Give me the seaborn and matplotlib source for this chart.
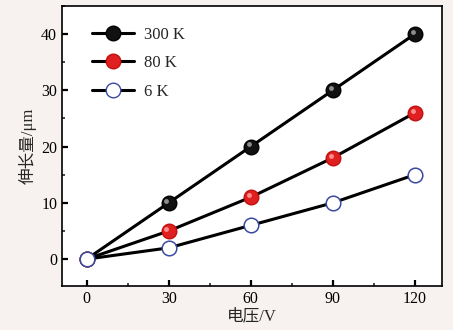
import matplotlib
matplotlib.use("Agg")
import matplotlib.pyplot as plt
import matplotlib.transforms as mtransforms
from matplotlib.ticker import MultipleLocator
from matplotlib.lines import Line2D
import seaborn as sns
import pandas as pd

voltage = [0, 30, 60, 90, 120]
ext_300K = [0, 10, 20, 30, 40]
ext_80K = [0, 5, 11, 18, 26]
ext_6K = [0, 2, 6, 10, 15]
labels = ["300 K", "80 K", "6 K"]
x_label = "电压/V"
y_label = "伸长量/μm"

sns.set_theme(style="ticks")
plt.rcParams['font.family'] = ['Liberation Serif', 'Noto Sans CJK SC']
plt.rcParams['mathtext.fontset'] = 'stix'

fig = plt.figure(figsize=(4.53, 3.30), dpi=100, facecolor="#f7f2ef")
ax = fig.add_axes([0.137, 0.133, 0.839, 0.849])
ax.set_facecolor("white")

styles = [
    dict(mfc="#111111", mec="#000000", hl="#9a9a9a"),
    dict(mfc="#e02020", mec="#c01010", hl="#ff9a9a"),
    dict(mfc="white", mec="#3a4aa0", hl=None),
]
series = [ext_300K, ext_80K, ext_6K]
hl_trans = mtransforms.offset_copy(ax.transData, fig=fig, x=-1.6, y=1.6, units='points')

for i, (vals, lab, st) in enumerate(zip(series, labels, styles)):
    df = pd.DataFrame({"V": voltage, "d": vals})
    sns.lineplot(data=df, x="V", y="d", ax=ax, color="black", lw=2.2,
                 marker="o", markersize=10.5, markerfacecolor=st["mfc"],
                 markeredgecolor=st["mec"], markeredgewidth=1.0 if st["hl"] else 1.1,
                 label=lab, legend=False, zorder=3 + 2 * i)
    if st["hl"]:
        ax.plot(voltage, vals, ls="none", marker="o", markersize=3.5,
                markerfacecolor=st["hl"], markeredgecolor="none",
                transform=hl_trans, zorder=4 + 2 * i, alpha=0.9)

handles = [Line2D([], [], color="black", lw=2.2, marker="o", markersize=10.5,
                  markerfacecolor=st["mfc"], markeredgecolor=st["mec"]) for st in styles]
leg = ax.legend(handles, labels, loc="upper left", frameon=False, fontsize=12,
                handlelength=2.5, handletextpad=0.6, labelspacing=0.75,
                borderaxespad=0.6, bbox_to_anchor=(0.035, 0.985))

ax.set_xlim(-9, 130)
ax.set_ylim(-4.8, 45)
ax.set_xticks(voltage)
ax.set_yticks([0, 10, 20, 30, 40])
ax.xaxis.set_minor_locator(MultipleLocator(15))
ax.yaxis.set_minor_locator(MultipleLocator(5))
ax.tick_params(which="major", direction="in", length=4, width=1.6, labelsize=11.5,
               top=False, right=False, colors="black")
ax.tick_params(which="minor", direction="in", length=2, width=1.2, top=False, right=False)
for s in ax.spines.values():
    s.set_linewidth(1.2)
    s.set_color("black")
ax.set_xlabel(x_label, fontsize=12, labelpad=1)
ax.set_ylabel(y_label, fontsize=12, labelpad=3)

fig.savefig("out.png", dpi=100, facecolor=fig.get_facecolor())
